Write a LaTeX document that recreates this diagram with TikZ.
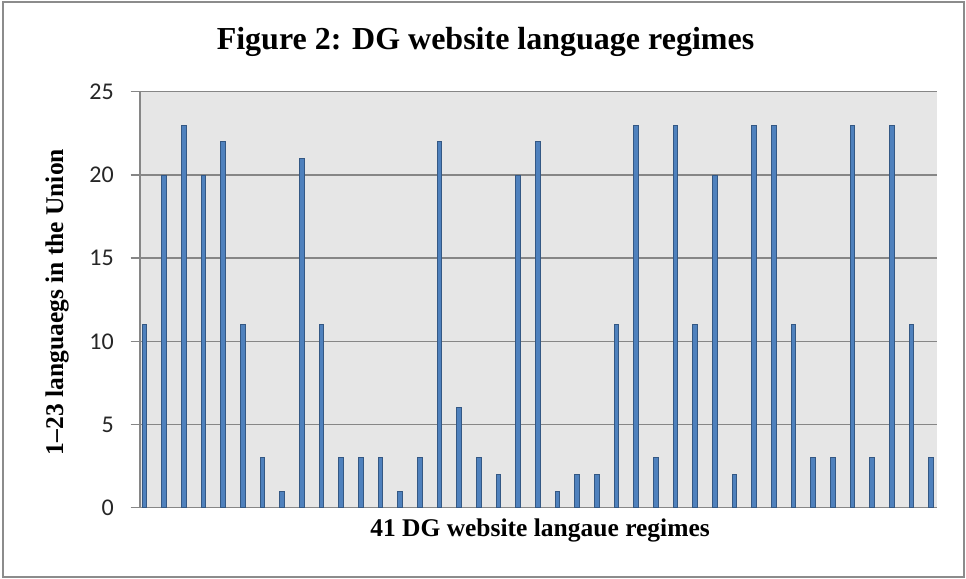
\documentclass[tikz,border=0pt]{standalone}
\usepackage{fontspec}
\setmainfont{Liberation Serif}
\newfontfamily\calfont{Carlito}
\definecolor{plotbg}{RGB}{230,230,230}
\definecolor{gridc}{RGB}{134,134,134}
\definecolor{barfill}{RGB}{79,129,189}
\definecolor{barline}{RGB}{52,88,132}
\definecolor{framec}{RGB}{140,140,140}
\begin{document}
\begin{tikzpicture}[x=1pt,y=-1pt,
  gridline/.style={gridc,line width=1.3pt},
  ticklabel/.style={anchor=east,inner sep=0pt,font=\calfont\fontsize{24}{28}\selectfont,text=black!85},
  barstyle/.style={fill=barfill,draw=barline,line width=0.8pt},
  titlestyle/.style={inner sep=0pt,font=\bfseries\fontsize{32}{36}\selectfont},
  axlabel/.style={inner sep=0pt,font=\bfseries\fontsize{25.5}{28}\selectfont}]
\useasboundingbox (0,0) rectangle (966,578);
\fill[white] (0,0) rectangle (966,578);
\draw[framec,line width=2pt] (3,2) rectangle (964,576.5);
\fill[plotbg] (140,91.7) rectangle (936.7,507.7);
\foreach \k in {0,...,5}{
  \pgfmathtruncatemacro{\lab}{\k*5}
  \draw[gridline] (130.7,507.7-\k*83.2) -- (936.7,507.7-\k*83.2);
  \node[ticklabel] (t\k) at (114,507.7-\k*83.2) {\lab};
}
\draw[gridline] (140,91.7) -- (140,507.7);
\foreach \v [count=\i from 0] in {11,20,23,20,22,11,3,1,21,11,3,3,3,1,3,22,6,3,2,20,22,1,2,2,11,23,3,23,11,20,2,23,23,11,3,3,23,3,23,11,3}{
  \draw[barstyle] (142+\i*19.67,507.7) rectangle (146.7+\i*19.67,507.7-\v*16.64);
}
\node[titlestyle] (title) at (485.5,42) {Figure 2: DG website language regimes};
\node[axlabel] (xlabel) at (540,530) {41 DG website langaue regimes};
\node[axlabel,rotate=90] (ylabel) at (57,302) {1–23 languaegs in the Union};
\end{tikzpicture}
\end{document}
